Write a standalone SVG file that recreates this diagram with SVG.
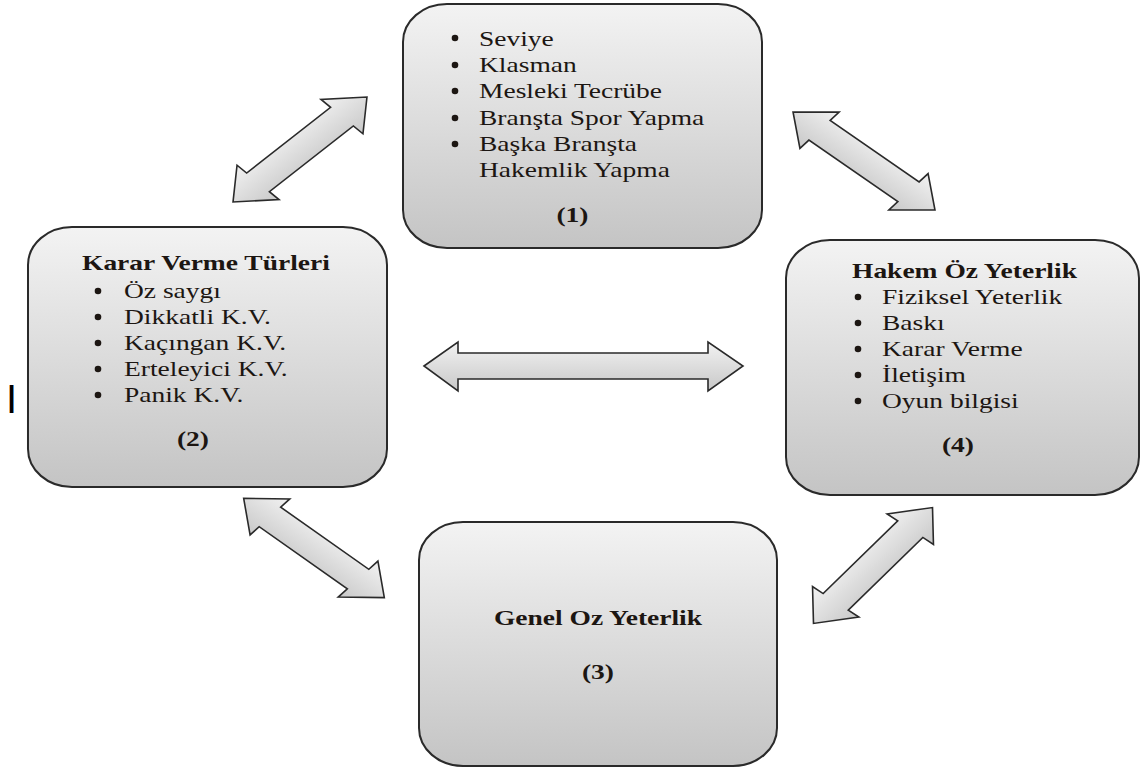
<svg xmlns="http://www.w3.org/2000/svg" width="1142" height="769" viewBox="0 0 1142 769">
<style>
.box{stroke:#2a2a2a;stroke-width:2;fill:url(#boxg)}
.arr{stroke:#2a2a2a;stroke-width:1.6;fill:url(#arrg);stroke-linejoin:miter}
.t{font-family:"Liberation Serif","Times New Roman",serif;font-size:22px;fill:#1c1612}
.b{font-weight:bold}
.m{text-anchor:middle}
.dot{fill:#1c1612}
</style>
<defs>
<linearGradient id="boxg" x1="0" y1="0" x2="0" y2="1">
<stop offset="0" stop-color="#f3f3f3"/>
<stop offset="1" stop-color="#c4c4c4"/>
</linearGradient>
<linearGradient id="arrg" x1="0" y1="0" x2="0" y2="1">
<stop offset="0" stop-color="#f2f2f2"/>
<stop offset="1" stop-color="#c8c8c8"/>
</linearGradient>
<polygon id="darrow" class="arr" vector-effect="non-scaling-stroke" points="75,0 47,24 47,13 -47,13 -47,24 -75,0 -47,-24 -47,-13 47,-13 47,-24"/>
</defs>

<g id="connectors">
<use href="#darrow" transform="scale(1.25 1) translate(240 149.5) rotate(-44.4)"/>
<use href="#darrow" transform="scale(1.25 1) translate(691.2 161) rotate(40.8)"/>
<use href="#darrow" transform="scale(1.25 1) translate(251.2 548) rotate(41.4)"/>
<use href="#darrow" transform="scale(1.25 1) translate(698.4 565.5) rotate(-50.6)"/>
<polygon class="arr" points="424,366 458,342 458,353 708,353 708,342 743,366 708,391 708,379 458,379 458,391"/>
</g>

<g id="node1">
<rect class="box" x="403" y="4" width="359" height="244" rx="44" ry="38"/>
<circle class="dot" cx="455" cy="38" r="3.3"/>
<circle class="dot" cx="455" cy="65" r="3.3"/>
<circle class="dot" cx="455" cy="91" r="3.3"/>
<circle class="dot" cx="455" cy="118" r="3.3"/>
<circle class="dot" cx="455" cy="144" r="3.3"/>
<g transform="scale(1.25 1)">
<text class="t" x="383.2" y="46">Seviye</text>
<text class="t" x="383.2" y="72">Klasman</text>
<text class="t" x="383.2" y="98">Mesleki Tecrübe</text>
<text class="t" x="383.2" y="125">Branşta Spor Yapma</text>
<text class="t" x="383.2" y="151">Başka Branşta</text>
<text class="t" x="383.2" y="177">Hakemlik Yapma</text>
<text class="t b m" x="458" y="222">(1)</text>
</g>
</g>

<g id="node2">
<rect class="box" x="28" y="227" width="359" height="260" rx="44" ry="38"/>
<circle class="dot" cx="98" cy="291" r="3.3"/>
<circle class="dot" cx="98" cy="317" r="3.3"/>
<circle class="dot" cx="98" cy="343" r="3.3"/>
<circle class="dot" cx="98" cy="369" r="3.3"/>
<circle class="dot" cx="98" cy="395" r="3.3"/>
<g transform="scale(1.25 1)">
<text class="t b" x="65.6" y="270">Karar Verme Türleri</text>
<text class="t" x="99.2" y="298">Öz saygı</text>
<text class="t" x="99.2" y="324">Dikkatli K.V.</text>
<text class="t" x="99.2" y="350">Kaçıngan K.V.</text>
<text class="t" x="99.2" y="376">Erteleyici K.V.</text>
<text class="t" x="99.2" y="402">Panik K.V.</text>
<text class="t b m" x="154.4" y="446">(2)</text>
</g>
</g>

<g id="node3">
<rect class="box" x="419" y="522" width="358" height="244" rx="44" ry="38"/>
<g transform="scale(1.25 1)">
<text class="t b m" x="478.4" y="625">Genel Oz Yeterlik</text>
<text class="t b m" x="478.4" y="679">(3)</text>
</g>
</g>

<g id="node4">
<rect class="box" x="786" y="240" width="353" height="255" rx="44" ry="38"/>
<circle class="dot" cx="858" cy="297" r="3.3"/>
<circle class="dot" cx="858" cy="323" r="3.3"/>
<circle class="dot" cx="858" cy="349" r="3.3"/>
<circle class="dot" cx="858" cy="375" r="3.3"/>
<circle class="dot" cx="858" cy="401" r="3.3"/>
<g transform="scale(1.25 1)">
<text class="t b" x="681.6" y="278">Hakem Öz Yeterlik</text>
<text class="t" x="705.6" y="304">Fiziksel Yeterlik</text>
<text class="t" x="705.6" y="330">Baskı</text>
<text class="t" x="705.6" y="356">Karar Verme</text>
<text class="t" x="705.6" y="382">İletişim</text>
<text class="t" x="705.6" y="408">Oyun bilgisi</text>
<text class="t b m" x="766.4" y="452">(4)</text>
</g>
</g>

<text x="6" y="413" style="font-family:'Liberation Sans',Arial,sans-serif;font-size:40px;fill:#000">I</text>
</svg>
